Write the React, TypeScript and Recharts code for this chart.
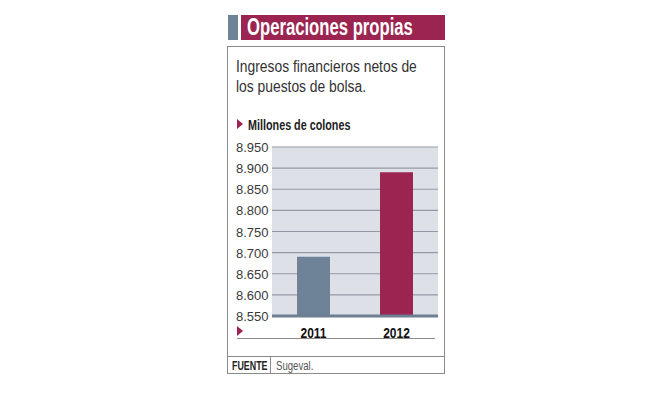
import React from 'react';
import { BarChart, Bar, XAxis, YAxis, CartesianGrid, Cell } from 'recharts';

const years = ['2011', '2012'];
const ingresos = [8690, 8890];
const barColors = ['#6e8298', '#9b2450'];
const yTicks = [8550, 8600, 8650, 8700, 8750, 8800, 8850, 8900, 8950];
const boundaryTicks = [0, 1, 2];

const data = years.map((year, i) => ({ year, value: ingresos[i] }));

const sans = '"Liberation Sans", Arial, sans-serif';

const fmt = (v: number) => {
  const s = String(v);
  return s.length > 3 ? s.slice(0, s.length - 3) + '.' + s.slice(-3) : s;
};

const YTick = (props: any) => {
  const { y, payload } = props;
  return (
    <text x={8} y={y} dy={5} textAnchor="start" fontFamily={sans} fontSize={13} fill="#3a3a3a">
      {fmt(payload.value)}
    </text>
  );
};

const XTick = (props: any) => {
  const { x, y, payload } = props;
  return (
    <text
      transform={`translate(${x},${y + 14}) scale(0.8,1)`}
      textAnchor="middle"
      fontFamily={sans}
      fontWeight={700}
      fontSize={15}
      fill="#111"
    >
      {payload.value}
    </text>
  );
};

// condensed html text
const Cond = ({ left, top, sx, style, children }: any) => (
  <div
    style={{
      position: 'absolute',
      left,
      top,
      whiteSpace: 'nowrap',
      fontFamily: sans,
      transform: `scaleX(${sx})`,
      transformOrigin: 'left top',
      ...style,
    }}
  >
    {children}
  </div>
);

const Triangle = ({ style }: { style: React.CSSProperties }) => (
  <div
    style={{
      position: 'absolute',
      width: 0,
      height: 0,
      borderTop: '5px solid transparent',
      borderBottom: '5px solid transparent',
      borderLeft: '6px solid #9b2450',
      ...style,
    }}
  />
);

export default function App() {
  return (
    <div style={{ position: 'absolute', left: 0, top: 0, width: 653, height: 398, background: '#fff' }}>
      {/* title */}
      <div style={{ position: 'absolute', left: 228, top: 15, width: 10, height: 25, background: '#6e8298' }} />
      <div style={{ position: 'absolute', left: 241, top: 15, width: 204, height: 25, background: '#9b2450' }} />
      <Cond left={247} top={14} sx={0.725} style={{ color: '#fff', fontWeight: 700, fontSize: 23, lineHeight: '26px' }}>
        Operaciones propias
      </Cond>

      {/* frame */}
      <div
        style={{
          position: 'absolute',
          left: 227,
          top: 46,
          width: 218,
          height: 328,
          border: '1px solid #8a8a8a',
          boxSizing: 'border-box',
        }}
      />

      <Cond left={236} top={57} sx={0.865} style={{ fontSize: 16, lineHeight: '20px', color: '#333' }}>
        Ingresos financieros netos de
        <br />
        los puestos de bolsa.
      </Cond>

      <Triangle style={{ left: 237, top: 119 }} />
      <Cond left={248} top={117} sx={0.77} style={{ fontWeight: 700, fontSize: 14, color: '#222' }}>
        Millones de colones
      </Cond>

      <div style={{ position: 'absolute', left: 228, top: 140 }}>
        <BarChart
          width={216}
          height={200}
          data={data}
          margin={{ top: 7, right: 6, left: 0, bottom: 0 }}
          barCategoryGap={25}
        >
          <CartesianGrid vertical={false} fill="#dde0e7" stroke="#939aa5" strokeWidth={1.2} />
          <XAxis
            dataKey="year"
            height={24}
            axisLine={{ stroke: '#6e7f91', strokeWidth: 3 }}
            tickLine={false}
            tick={<XTick />}
          />
          <XAxis
            xAxisId="bounds"
            type="number"
            domain={[0, 2]}
            ticks={boundaryTicks}
            mirror
            axisLine={false}
            tick={false}
            tickSize={5}
            tickLine={{ stroke: '#8e959f' }}
          />
          <YAxis
            width={44}
            domain={[8550, 8950]}
            ticks={yTicks}
            interval={0}
            axisLine={false}
            tickLine={false}
            tick={<YTick />}
          />
          <Bar dataKey="value" isAnimationActive={false}>
            {data.map((d, i) => (
              <Cell key={d.year} fill={barColors[i]} />
            ))}
          </Bar>
        </BarChart>
      </div>

      <Triangle style={{ left: 237, top: 326 }} />
      <div style={{ position: 'absolute', left: 237, top: 338, width: 198, height: 1, background: '#8a8a8a' }} />

      {/* footer */}
      <div style={{ position: 'absolute', left: 227, top: 356, width: 218, height: 1, background: '#8a8a8a' }} />
      <div style={{ position: 'absolute', left: 270, top: 356, width: 1, height: 17, background: '#8a8a8a' }} />
      <Cond left={232} top={359} sx={0.74} style={{ fontWeight: 700, fontSize: 12, color: '#222' }}>
        FUENTE
      </Cond>
      <Cond left={276} top={359} sx={0.8} style={{ fontSize: 12, color: '#555' }}>
        Sugeval.
      </Cond>
    </div>
  );
}
